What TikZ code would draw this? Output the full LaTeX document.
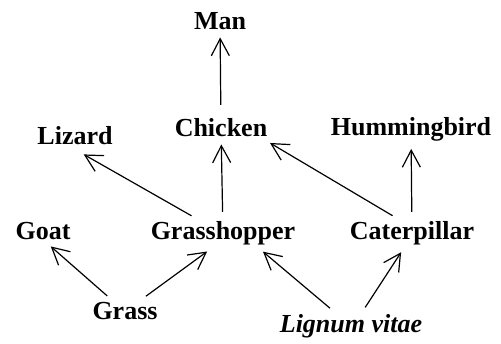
\documentclass[tikz,border=0pt]{standalone}
\usepackage{fontspec}
\setmainfont{Liberation Serif}
\usepackage{tikz}
\usetikzlibrary{arrows.meta,
positioning}

\begin{document}
\begin{tikzpicture}[
x=1pt, y=-1pt,
every node/.style={
anchor=base,
inner sep=4pt,
font=\fontsize{26}{30}\selectfont\bfseries
},
eats/.style={
-{Straight Barb[length=17pt,width=18pt]},
line width=1.2pt,
shorten <=4pt,
shorten >=3pt
},
>=Stealth
]
\useasboundingbox (0,0) rectangle (501,344);

% top of the chain
\node (man) at (220,30) {Man};
\node (chicken) at (221,137) {Chicken};
\node (lizard) at (75,145) {Lizard};
\node (hummingbird) at (411,136) {Hummingbird};

% middle row
\node (goat) at (43,240) {Goat};
\node (grasshopper) at (223,240) {Grasshopper};
\node (caterpillar) at (412,240) {Caterpillar};

% producers
\node (grass) at (125,320) {Grass};
\node (lignum) at (351,333) {\itshape Lignum vitae};

\draw[eats, shorten <=10pt] (chicken) -- (man);
\draw[eats, shorten <=6pt] (grasshopper) -- (chicken);
\draw[eats, shorten >=10pt] (grasshopper) -- (lizard.south);
\draw[eats] ([xshift=-16pt]caterpillar.north) -- ([xshift=-4pt]chicken.south east);
\draw[eats, shorten <=6pt] (caterpillar) -- (hummingbird);
\draw[eats] (grass) -- (goat.-67);
\draw[eats] (grass) -- (grasshopper.-130);
\draw[eats] ([xshift=-18pt]lignum.north) -- (grasshopper.-23);
\draw[eats] ([xshift=12pt]lignum.north) -- (caterpillar.-120);

\end{tikzpicture}
\end{document}
